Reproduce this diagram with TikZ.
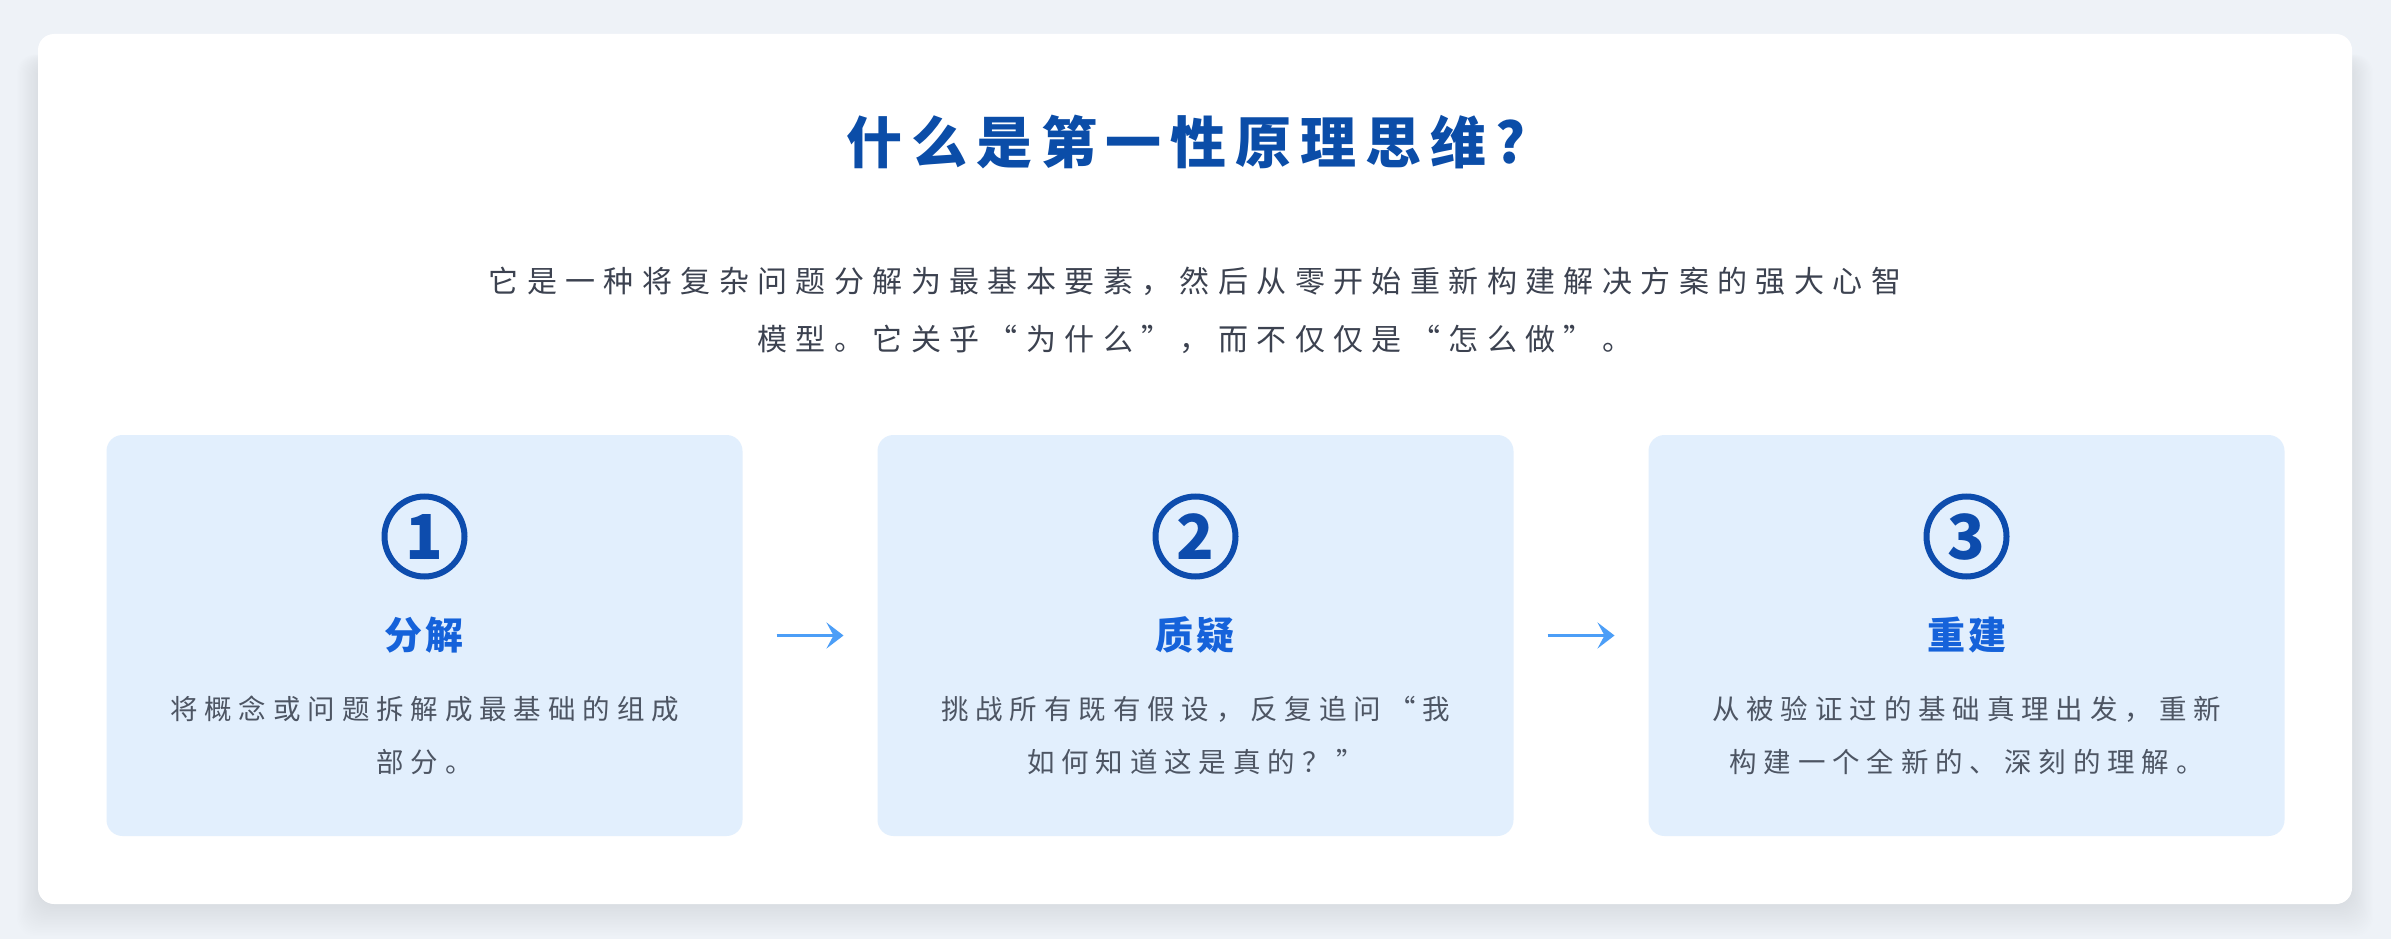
\documentclass[tikz,border=0pt]{standalone}
\usepackage{fontspec}
\setmainfont{Noto Sans CJK SC}
\newfontfamily\titlefont[LetterSpace=16]{Noto Sans CJK SC}
\newfontfamily\subfont[LetterSpace=28]{Noto Sans CJK SC}
\newfontfamily\stepfont[LetterSpace=8]{Noto Sans CJK SC}
\newfontfamily\descfont[LetterSpace=25]{Noto Sans CJK SC}
\newfontfamily\numfont{Noto Sans CJK SC}
\usetikzlibrary{arrows.meta}
\definecolor{bgcol}{HTML}{EEF2F7}
\definecolor{boxblue}{HTML}{E2EFFD}
\definecolor{titleblue}{HTML}{0B4DA8}
\definecolor{circleblue}{HTML}{0D4CAD}
\definecolor{stepblue}{HTML}{1562DA}
\definecolor{arrowblue}{HTML}{4C9EF7}
\definecolor{subgray}{HTML}{3C4250}
\definecolor{descgray}{HTML}{4D5563}
\begin{document}
\begin{tikzpicture}[x=1pt,y=-1pt,
  card/.style={fill=white, rounded corners=16pt, minimum width=2314pt, minimum height=870pt, inner sep=0pt, outer sep=0pt},
  stepbox/.style={fill=boxblue, rounded corners=16pt, minimum width=636pt, minimum height=401pt, inner sep=0pt, outer sep=0pt},
  titletext/.style={text=titleblue, inner sep=0pt, font=\titlefont\bfseries\fontsize{56}{60}\selectfont},
  subtext/.style={text=subgray, inner sep=0pt, align=center, font=\subfont\fontsize{30}{58}\selectfont},
  numcircle/.style={draw=circleblue, line width=6pt, circle, minimum size=80pt, inner sep=0pt, text=circleblue, font=\numfont\bfseries\fontsize{62}{62}\selectfont},
  steptitle/.style={text=stepblue, inner sep=0pt, font=\stepfont\bfseries\fontsize{38}{40}\selectfont},
  desctext/.style={text=descgray, inner sep=0pt, align=center, font=\descfont\fontsize{27.5}{53}\selectfont},
  flowarrow/.style={draw=arrowblue, line width=3pt, -{Stealth[length=17pt,width=26pt,inset=7pt]}}
]
\fill[bgcol] (0,0) rectangle (2391,939);
\useasboundingbox (0,0) rectangle (2391,939);
% soft shadow of the card
\foreach \i in {0,...,19} {
  \fill[black, opacity=0.0048, rounded corners=18pt] (38-\i*1.1, 60-\i*0.3) rectangle (2352+\i*1.1, 906+\i*1.6);
}
\node[card] (card) at (1195,469) {};
% heading
\node[titletext] (title) at (1186,142) {什么是第一性原理思维?};
\node[subtext] (sub) at (1195,310) {它是一种将复杂问题分解为最基本要素，然后从零开始重新构建解决方案的强大心智\\模型。它关乎“为什么”，而不仅仅是“怎么做”。};
% step boxes
\node[stepbox] (b1) at (424.5,635.5) {};
\node[stepbox] (b2) at (1195.5,635.5) {};
\node[stepbox] (b3) at (1966.5,635.5) {};
% step 1
\node[numcircle] (n1) at (424.5,536.5) {1};
\node[steptitle] (t1) at (424.5,635) {分解};
\node[desctext] (d1) at (424.5,735) {将概念或问题拆解成最基础的组成\\部分。};
% step 2
\node[numcircle] (n2) at (1195.5,536.5) {2};
\node[steptitle] (t2) at (1195.5,635) {质疑};
\node[desctext] (d2) at (1195.5,735) {挑战所有既有假设，反复追问“我\\如何知道这是真的？”};
% step 3
\node[numcircle] (n3) at (1966.5,536.5) {3};
\node[steptitle] (t3) at (1966.5,635) {重建};
\node[desctext] (d3) at (1966.5,735) {从被验证过的基础真理出发，重新\\构建一个全新的、深刻的理解。};
% arrows
\draw[flowarrow] ([xshift=34pt]b1.east) -- ([xshift=-34pt]b2.west);
\draw[flowarrow] ([xshift=34pt]b2.east) -- ([xshift=-34pt]b3.west);
\end{tikzpicture}
\end{document}
